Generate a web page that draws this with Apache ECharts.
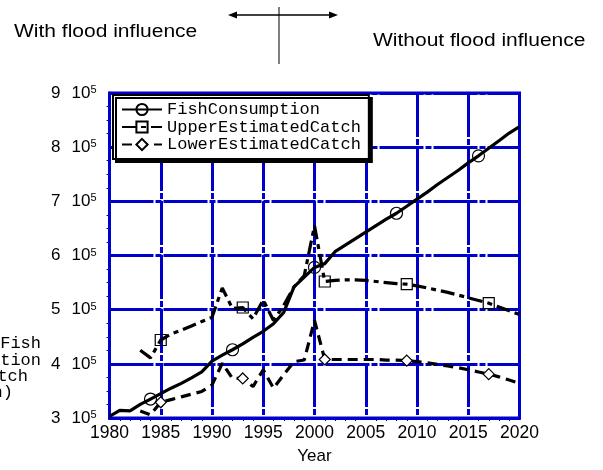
<!DOCTYPE html>
<html>
<head>
<meta charset="utf-8">
<script src="https://cdn.jsdelivr.net/npm/echarts@6/dist/echarts.min.js"></script>
<style>html,body{margin:0;padding:0;background:#fff;}#c{width:603px;height:470px;}</style>
</head>
<body>
<div id="c"></div>
<script>
// ---- data ----
var fishYears = [1980,1981,1982,1983,1984,1985,1986,1987,1988,1989,1990,1991,1992,1993,1994,1995,1996,1997,1998,1999,2000,2001,2002,2003,2004,2005,2006,2007,2008,2009,2010,2011,2012,2013,2014,2015,2016,2017,2018,2019,2020];
var fishConsumption = [303000,314000,313000,325000,335000,345000,355000,364000,374000,385000,405000,416000,426000,437000,449000,460000,474000,495000,542000,560000,578000,585000,607000,619000,631000,643000,655000,667000,678000,691000,704000,717000,731000,744000,757000,771000,784000,798000,812000,826000,838000];
var catchYears = [1983,1984,1985,1986,1987,1988,1989,1990,1991,1992,1993,1994,1995,1996,1997,1998,1999,2000,2001,2002,2003,2004,2005,2006,2007,2008,2009,2010,2011,2012,2013,2014,2015,2016,2017,2018,2019,2020];
var upperEstimatedCatch = [425000,411000,444000,455000,462000,470000,478000,486000,540000,502000,504000,483000,518000,480000,508000,542000,563000,655000,552000,554000,555000,555000,554000,552000,550000,548000,547000,544000,540000,536000,532000,527000,522000,517000,512000,505000,498000,491000];
var lowerEstimatedCatch = [313000,306000,329000,334000,339000,344000,349000,361000,401000,373000,373000,358000,389000,355000,380000,404000,407000,480000,408000,408000,408000,408000,408000,408000,407000,407000,406000,404000,402000,399000,396000,393000,389000,385000,381000,376000,370000,364000];
var fishMarkerYears = [1984,1992,2000,2008,2016];
var catchMarkerYears = [1985,1993,2001,2009,2017];
var seriesNames = ['FishConsumption','UpperEstimatedCatch','LowerEstimatedCatch'];
var xTickYears = [1980,1985,1990,1995,2000,2005,2010,2015,2020];
var yTickMantissa = [3,4,5,6,7,8,9];
var xAxisName = 'Year';
var yAxisNameLines = ['Annual Fish','Consumption','and Catch','(ton)'];
var leftNote = 'With flood influence';
var rightNote = 'Without flood influence';

// ---- build ----
var BLUE = '#0000cc';
var MONO = '"Liberation Mono","DejaVu Sans Mono",monospace';
var SANS = '"Liberation Sans",Arial,sans-serif';

function build(years, vals, markYears, sym) {
  return years.map(function (y, i) {
    return { value: [y, vals[i]], symbol: markYears.indexOf(y) >= 0 ? sym : 'none' };
  });
}

var chart = echarts.init(document.getElementById('c'), null, { renderer: 'canvas' });

var markerStyle = { color: 'rgba(255,255,255,0)', borderColor: '#000', borderWidth: 1.2 };
var gridDash = [44, 2, 6, 2];

var option = {
  animation: false,
  backgroundColor: '#fff',
  grid: { left: 109.5, right: 83.5, top: 93, bottom: 50, show: true, borderColor: BLUE, borderWidth: 3, backgroundColor: 'transparent' },
  legend: {
    orient: 'vertical', left: 113, top: 95,
    data: seriesNames,
    backgroundColor: '#fff', borderColor: '#000', borderWidth: 2,
    shadowColor: '#000', shadowOffsetX: 3, shadowOffsetY: 3, shadowBlur: 0,
    padding: [6, 8, 6, 8], itemGap: 0.5, itemWidth: 40, itemHeight: 14,
    textStyle: { fontFamily: MONO, fontSize: 17, color: '#000', lineHeight: 17 }
  },
  xAxis: {
    type: 'value', min: xTickYears[0], max: xTickYears[xTickYears.length - 1], interval: 5,
    name: xAxisName, nameLocation: 'middle', nameGap: 30,
    nameTextStyle: { fontFamily: SANS, fontSize: 17, color: '#000' },
    axisLine: { show: true, lineStyle: { color: BLUE, width: 3 } },
    axisTick: { show: false },
    minorTick: { show: true, splitNumber: 5, length: 3, lineStyle: { color: BLUE, width: 1 } },
    axisLabel: { fontFamily: SANS, fontSize: 17.5, color: '#000', margin: 6, formatter: function (v) { return String(v); } },
    splitLine: { show: true, lineStyle: { color: BLUE, width: 3, type: gridDash } }
  },
  yAxis: {
    type: 'value', min: yTickMantissa[0] * 1e5, max: yTickMantissa[yTickMantissa.length - 1] * 1e5, interval: 1e5,
    axisLine: { show: true, lineStyle: { color: BLUE, width: 3 } },
    axisTick: { show: false },
    minorTick: { show: true, splitNumber: 4, length: 3, lineStyle: { color: BLUE, width: 1 } },
    axisLabel: {
      margin: 13,
      formatter: function (v) { return '{n|' + Math.round(v / 1e5) + '}{t|10}{s|5}'; },
      rich: {
        n: { fontFamily: SANS, fontSize: 17, color: '#000', padding: [0, 11, 0, 0], verticalAlign: 'middle' },
        t: { fontFamily: SANS, fontSize: 17, color: '#000', verticalAlign: 'middle' },
        s: { fontFamily: SANS, fontSize: 11, color: '#000', verticalAlign: 'top', lineHeight: 12, padding: [0, 0, 12, 0] }
      }
    },
    splitLine: { show: true, lineStyle: { color: BLUE, width: 3, type: gridDash } }
  },
  series: [
    {
      name: seriesNames[0], type: 'line', data: build(fishYears, fishConsumption, fishMarkerYears, 'circle'),
      symbol: 'circle', symbolSize: 12, showSymbol: true,
      lineStyle: { color: '#000', width: 3.2 }, itemStyle: markerStyle, z: 5
    },
    {
      name: seriesNames[1], type: 'line', data: build(catchYears, upperEstimatedCatch, catchMarkerYears, 'rect'),
      symbol: 'rect', symbolSize: 11, showSymbol: true,
      lineStyle: { color: '#000', width: 3.2, type: [14, 5, 5, 5] }, itemStyle: markerStyle, z: 4
    },
    {
      name: seriesNames[2], type: 'line', data: build(catchYears, lowerEstimatedCatch, catchMarkerYears, 'diamond'),
      symbol: 'diamond', symbolSize: 11, showSymbol: true,
      lineStyle: { color: '#000', width: 3.2, type: [10, 6] }, itemStyle: { color: '#fff', borderColor: '#000', borderWidth: 1.2 }, z: 4
    }
  ],
  graphic: [
    { type: 'text', left: 14, top: 23, scaleX: 1.2, style: { text: leftNote, fontFamily: SANS, fontSize: 17.5, fill: '#000' } },
    { type: 'text', left: 373, top: 32, scaleX: 1.2, style: { text: rightNote, fontFamily: SANS, fontSize: 17.5, fill: '#000' } },
    { type: 'line', shape: { x1: 233, y1: 15, x2: 333, y2: 15 }, style: { stroke: '#000', lineWidth: 1.5 } },
    { type: 'polygon', shape: { points: [[228, 15], [237, 11.5], [237, 18.5]] }, style: { fill: '#000' } },
    { type: 'polygon', shape: { points: [[338, 15], [329, 11.5], [329, 18.5]] }, style: { fill: '#000' } },
    { type: 'line', shape: { x1: 279, y1: 7, x2: 279, y2: 64 }, style: { stroke: '#000', lineWidth: 1 } },
    { type: 'text', x: 41, y: 343, style: { text: yAxisNameLines[0], fontFamily: MONO, fontSize: 17, fill: '#000', align: 'right', verticalAlign: 'middle' } },
    { type: 'text', x: 41, y: 360, style: { text: yAxisNameLines[1], fontFamily: MONO, fontSize: 17, fill: '#000', align: 'right', verticalAlign: 'middle' } },
    { type: 'text', x: 28, y: 376, style: { text: yAxisNameLines[2], fontFamily: MONO, fontSize: 17, fill: '#000', align: 'right', verticalAlign: 'middle' } },
    { type: 'text', x: 13, y: 392, style: { text: yAxisNameLines[3], fontFamily: MONO, fontSize: 17, fill: '#000', align: 'right', verticalAlign: 'middle' } }
  ]
};
chart.setOption(option);
</script>
</body>
</html>
